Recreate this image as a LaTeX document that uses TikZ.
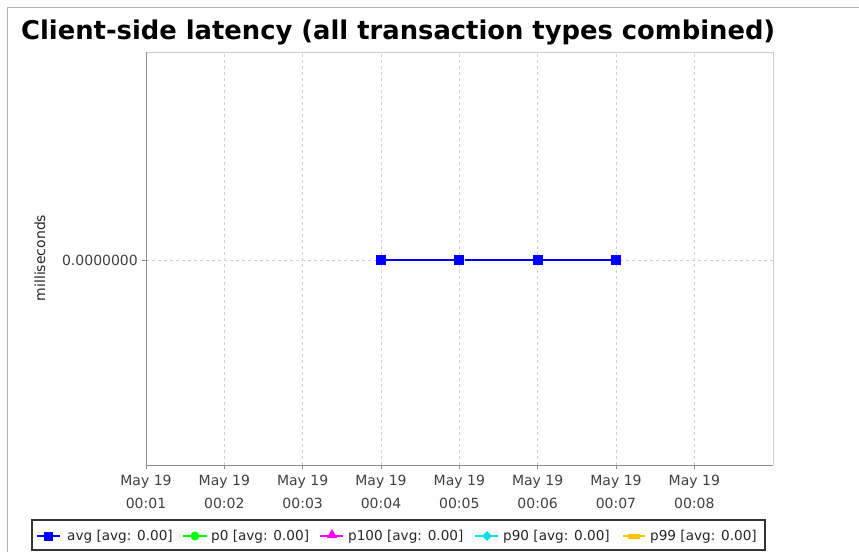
\documentclass[tikz,border=0pt]{standalone}
\usepackage{fontspec}
\setmainfont{DejaVu Sans}
\usetikzlibrary{shapes.geometric}

\definecolor{avgblue}{RGB}{0,0,255}
\definecolor{pzerogreen}{RGB}{0,255,0}
\definecolor{pmaxmagenta}{RGB}{255,0,255}
\definecolor{pninetycyan}{RGB}{0,225,225}
\definecolor{pninetynineorange}{RGB}{255,195,0}

\begin{document}
\begin{tikzpicture}[
    x=1pt, y=-1pt,
    ticklabel/.style={font=\fontsize{14}{16}\selectfont, text=black!75, inner sep=0pt},
    legendtext/.style={font=\fontsize{13.6}{16}\selectfont, text=black!85, inner sep=0pt, anchor=base west},
    gridline/.style={black!18, dash pattern=on 3pt off 3pt, line width=0.8pt},
    marker/.style={inner sep=0pt, draw=none},
    avgmark/.style={marker, rectangle, fill=avgblue, minimum size=10pt},
    avgline/.style={avgblue, line width=1.2pt}
]
\useasboundingbox (0,0) rectangle (859,552);

% Outer frame
\draw[black!30, line width=1pt] (7,552) -- (7,7) -- (859,7);

% Title
\node[anchor=base west, inner sep=0pt, font=\fontsize{25.8}{30}\selectfont\bfseries] (title) at (21,39)
    {Client-side latency (all transaction types combined)};

% Plot area
\coordinate (sw) at (146,465);
\coordinate (ne) at (773,52);
\foreach \i/\t in {0/00:01, 1/00:02, 2/00:03, 3/00:04, 4/00:05, 5/00:06, 6/00:07, 7/00:08} {
    \draw[gridline] (146+\i*78.33,465) -- (146+\i*78.33,52);
    \draw[black!45, line width=0.8pt] (146+\i*78.33,465) -- (146+\i*78.33,469);
    \node[ticklabel, anchor=base] (day\i) at (146+\i*78.33,485) {May 19};
    \node[ticklabel, anchor=base] (time\i) at (146+\i*78.33,508) {\t};
}
\draw[gridline] (146,260) -- (773,260);
\draw[black!20, line width=1pt] (sw -| ne) -- (ne) -- (ne -| sw);
\draw[black!45, line width=1pt] (ne -| sw) -- (sw) -- (sw -| ne);

% Y axis
\draw[black!45, line width=0.8pt] (142,260) -- (146,260);
\node[ticklabel, anchor=east] (yzero) at (138,260) {0.0000000};
\node[ticklabel, rotate=90, text=black!85] (ylabel) at (40,258) {milliseconds};

% Data
\node[avgmark] (a4) at (381,260) {};
\node[avgmark] (a5) at (459.3,260) {};
\node[avgmark] (a6) at (537.7,260) {};
\node[avgmark] (a7) at (616,260) {};
\draw[avgline] (a4) -- (a5) -- (a6) -- (a7);

% Legend
\draw[black!80, line width=1.5pt] (32,520) rectangle (765,550);
\node[avgmark, minimum size=9pt] (lavg) at (48,536) {};
\node[marker, circle, fill=pzerogreen, minimum size=9pt] (lpzero) at (195,536) {};
\node[marker, regular polygon, regular polygon sides=3, fill=pmaxmagenta, minimum size=12pt] (lpmax) at (332,535) {};
\node[marker, diamond, fill=pninetycyan, minimum size=10pt] (lpninety) at (487,536) {};
\node[marker, rectangle, fill=pninetynineorange, minimum width=12pt, minimum height=5pt] (lpninetynine) at (634,536) {};
\draw[avgline] ([xshift=-11pt]lavg.center) -- ([xshift=12pt]lavg.center);
\draw[pzerogreen, line width=1.2pt] ([xshift=-12pt]lpzero.center) -- ([xshift=12pt]lpzero.center);
\draw[pmaxmagenta, line width=1.2pt] ([xshift=-12pt,yshift=-1pt]lpmax.center) -- ([xshift=11pt,yshift=-1pt]lpmax.center);
\draw[pninetycyan, line width=1.2pt] ([xshift=-12pt]lpninety.center) -- ([xshift=11pt]lpninety.center);
\draw[pninetynineorange, line width=1.2pt] ([xshift=-11pt]lpninetynine.center) -- ([xshift=11pt]lpninetynine.center);
\node[legendtext] (tavg) at (67,540) {avg [avg: 0.00]};
\node[legendtext] (tpzero) at (211,540) {p0 [avg: 0.00]};
\node[legendtext] (tpmax) at (348,540) {p100 [avg: 0.00]};
\node[legendtext] (tpninety) at (503,540) {p90 [avg: 0.00]};
\node[legendtext] (tpninetynine) at (650,540) {p99 [avg: 0.00]};

\end{tikzpicture}
\end{document}
